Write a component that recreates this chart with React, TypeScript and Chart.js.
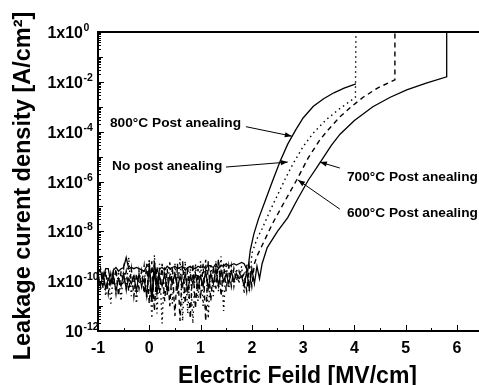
import React, { useEffect, useRef } from 'react';
import { Chart, registerables } from 'chart.js';

Chart.register(...registerables);

const FONT = '"Liberation Sans", Arial, Helvetica, sans-serif';

// Noise region: shared field values (MV/cm)
const NOISE_X = [
  -1.0, -0.95, -0.9, -0.85, -0.8, -0.75, -0.7, -0.65, -0.6, -0.55,
  -0.5, -0.45, -0.4, -0.35, -0.3, -0.25, -0.2, -0.15, -0.1, -0.05,
  0.0, 0.05, 0.1, 0.15, 0.2, 0.25, 0.3, 0.35, 0.4, 0.45,
  0.5, 0.55, 0.6, 0.65, 0.7, 0.75, 0.8, 0.85, 0.9, 0.95,
  1.0, 1.05, 1.1, 1.15, 1.2, 1.25, 1.3, 1.35, 1.4, 1.45,
  1.5, 1.55, 1.6, 1.65, 1.7, 1.75, 1.8,
];

// log10 of current density in the noise region
const NOISE_800 = [
  -9.55, -9.6, -9.9, -9.5, -9.5, -10.1, -9.55, -9.45, -9.6, -9.5,
  -9.45, -9.05, -9.5, -9.45, -9.5, -9.45, -9.5, -9.55, -9.6, -9.4,
  -9.3, -10.7, -9.2, -10.2, -9.5, -9.45, -9.55, -9.4, -9.5, -9.45,
  -9.4, -9.5, -9.45, -9.4, -9.55, -9.45, -9.4, -9.5, -9.5, -9.4,
  -9.45, -9.4, -9.5, -9.35, -9.4, -9.45, -9.3, -9.5, -9.35, -9.4,
  -9.3, -9.4, -9.35, -9.3, -9.35, -9.3, -9.25,
];
const NOISE_NONE = [
  -9.7, -10.4, -9.6, -10.6, -9.8, -10.9, -9.7, -10.5, -9.6, -10.8,
  -9.5, -10.3, -9.05, -10.6, -9.7, -10.9, -9.6, -10.2, -9.4, -10.7,
  -9.1, -11.5, -8.95, -11.3, -9.3, -11.7, -9.4, -10.6, -9.2, -10.9,
  -9.3, -10.5, -9.1, -11.6, -9.2, -11.3, -9.4, -11.7, -9.3, -10.8,
  -9.2, -11.0, -9.1, -11.5, -9.3, -10.6, -9.2, -10.4, -9.0, -11.2,
  -9.3, -10.3, -9.4, -10.2, -9.5, -10.1, -9.4,
];
const NOISE_700 = [
  -10.0, -9.5, -10.3, -9.6, -10.5, -9.7, -10.2, -9.5, -10.6, -9.6,
  -10.1, -9.6, -10.4, -9.5, -10.6, -9.7, -10.3, -9.6, -10.5, -9.3,
  -10.9, -9.2, -11.2, -9.4, -10.5, -9.3, -10.8, -9.5, -11.0, -9.4,
  -11.4, -9.3, -11.6, -9.2, -10.9, -9.4, -11.5, -9.3, -11.1, -9.5,
  -10.7, -9.3, -11.6, -9.2, -10.8, -9.4, -10.3, -9.1, -10.6, -9.3,
  -10.4, -9.4, -10.2, -9.5, -10.0, -9.6, -9.9,
];
const NOISE_600 = [
  -9.8, -10.2, -9.7, -10.3, -9.9, -10.1, -9.8, -10.4, -9.9, -10.2,
  -9.7, -10.3, -9.9, -10.1, -9.8, -10.4, -9.7, -10.2, -9.9, -10.6,
  -9.4, -10.8, -9.6, -10.5, -9.8, -10.2, -9.7, -10.4, -9.8, -10.1,
  -9.7, -10.3, -9.8, -10.2, -9.7, -10.4, -9.8, -10.1, -9.7, -10.3,
  -9.8, -10.2, -9.6, -10.3, -9.7, -10.1, -9.5, -10.2, -9.6, -10.0,
  -9.7, -10.1, -9.6, -10.0, -9.7, -9.9, -9.8,
];

// Rising (breakdown) parts: field and log10 current
const RISE_800_X = [1.85, 1.92, 1.97, 2.04, 2.13, 2.27, 2.4, 2.55, 2.7, 2.85, 3.0, 3.2, 3.4, 3.6, 3.8, 4.03];
const RISE_800_EXP = [-9.3, -9.6, -8.75, -8.1, -7.5, -6.72, -6.0, -5.2, -4.5, -3.95, -3.45, -2.98, -2.68, -2.44, -2.25, -2.08];

const RISE_NONE_X = [1.85, 1.9, 1.95, 2.0, 2.1, 2.2, 2.35, 2.5, 2.65, 2.8, 3.0, 3.2, 3.45, 3.7, 4.02, 4.03];
const RISE_NONE_EXP = [-10.5, -9.3, -10.4, -8.9, -8.3, -7.9, -7.2, -6.55, -5.9, -5.3, -4.6, -4.05, -3.52, -3.1, -2.62, 0];

const RISE_700_X = [1.85, 1.9, 1.95, 2.0, 2.05, 2.1, 2.25, 2.4, 2.6, 2.88, 3.1, 3.33, 3.5, 3.72, 3.95, 4.17, 4.45, 4.79, 4.79];
const RISE_700_EXP = [-9.7, -10.4, -9.4, -10.2, -9.3, -9.0, -8.35, -7.7, -6.95, -5.92, -5.05, -4.32, -3.9, -3.4, -2.98, -2.62, -2.25, -1.92, 0];

const RISE_600_X = [1.85, 1.9, 1.95, 2.0, 2.05, 2.1, 2.15, 2.2, 2.3, 2.5, 2.7, 2.88, 3.1, 3.33, 3.55, 3.72, 4.0, 4.36, 4.7, 5.02, 5.4, 5.8, 5.8];
const RISE_600_EXP = [-10.2, -9.6, -10.3, -9.5, -10.1, -9.4, -9.9, -9.3, -8.65, -8.0, -7.45, -6.75, -5.95, -5.24, -4.55, -4.1, -3.55, -3.0, -2.62, -2.32, -2.05, -1.8, 0];

// Axis ticks
const X_MIN = -1;
const X_MAX = 6.43;
const X_TICKS = [-1, 0, 1, 2, 3, 4, 5, 6];
const Y_TICK_EXP = [0, -2, -4, -6, -8, -10, -12];
const Y_TICK_BASE = ['1x10', '1x10', '1x10', '1x10', '1x10', '1x10', '10'];
const Y_TICK_SUP = ['0', '-2', '-4', '-6', '-8', '-10', '-12'];

const X_TITLE = 'Electric Feild [MV/cm]';
const Y_TITLE = 'Leakage curent density [A/cm\u00B2]';

// Annotation labels (text anchor in data units; log10 for y) with arrows
const LABEL_TEXT = ['800°C Post anealing', 'No post anealing', '700°C Post anealing', '600°C Post anealing'];
const LABEL_X = [-0.766, -0.727, 3.854, 3.854];
const LABEL_EXP = [-3.65, -5.38, -5.82, -7.27];
const ARROW_FROM_X = [1.885, 1.495, 3.717, 3.717];
const ARROW_FROM_EXP = [-3.8, -5.42, -5.46, -7.11];
const ARROW_TO_X = [2.78, 2.70, 3.327, 2.90];
const ARROW_TO_EXP = [-4.18, -5.22, -5.22, -5.94];

function buildPoints(noiseExp: number[], riseX: number[], riseExp: number[]) {
  const pts: { x: number; y: number }[] = [];
  const n = Math.min(NOISE_X.length, noiseExp.length);
  for (let i = 0; i < n; i++) pts.push({ x: NOISE_X[i], y: Math.pow(10, noiseExp[i]) });
  for (let i = 0; i < riseX.length; i++) pts.push({ x: riseX[i], y: Math.pow(10, riseExp[i]) });
  return pts;
}

const decorPlugin = {
  id: 'decor',
  afterDraw(chart: any) {
    const { ctx, chartArea: a, scales } = chart;
    const xs = scales.x;
    const ys = scales.y;
    ctx.save();
    ctx.strokeStyle = '#000';
    ctx.fillStyle = '#000';

    // frame (left, bottom, top)
    ctx.lineWidth = 2;
    ctx.beginPath();
    ctx.moveTo(a.right, a.top);
    ctx.lineTo(a.left, a.top);
    ctx.lineTo(a.left, a.bottom);
    ctx.lineTo(a.right, a.bottom);
    ctx.stroke();

    // y tick marks (inside)
    ctx.lineWidth = 1;
    ctx.beginPath();
    for (let d = -12; d <= 0; d++) {
      for (let m = 1; m <= 9; m++) {
        const v = m * Math.pow(10, d);
        if (v > 1.0001) break;
        const py = Math.round(ys.getPixelForValue(v)) + 0.5;
        const len = m === 1 ? (d % 2 === 0 ? 6 : 5) : 3;
        ctx.moveTo(a.left, py);
        ctx.lineTo(a.left + len, py);
      }
    }
    // x tick marks (inside)
    for (let k = 0; k < X_TICKS.length; k++) {
      const t = X_TICKS[k];
      const px = Math.round(xs.getPixelForValue(t)) + 0.5;
      ctx.moveTo(px, a.bottom);
      ctx.lineTo(px, a.bottom - 6);
      const h = t + 0.5;
      if (h < X_MAX) {
        const ph = Math.round(xs.getPixelForValue(h)) + 0.5;
        ctx.moveTo(ph, a.bottom);
        ctx.lineTo(ph, a.bottom - 3);
      }
    }
    ctx.stroke();

    // y tick labels with superscript exponents
    for (let i = 0; i < Y_TICK_EXP.length; i++) {
      const py = ys.getPixelForValue(Math.pow(10, Y_TICK_EXP[i]));
      ctx.font = `bold 16px ${FONT}`;
      ctx.textAlign = 'right';
      ctx.textBaseline = 'alphabetic';
      ctx.fillText(Y_TICK_BASE[i], 83, py + 6);
      ctx.font = `bold 10.5px ${FONT}`;
      ctx.textAlign = 'left';
      ctx.fillText(Y_TICK_SUP[i], 83.5, py - 1);
    }

    // axis titles
    ctx.font = `bold 23px ${FONT}`;
    ctx.textAlign = 'left';
    ctx.textBaseline = 'alphabetic';
    ctx.fillText(X_TITLE, 178, 383);
    ctx.save();
    ctx.font = `bold 23.5px ${FONT}`;
    ctx.translate(30, 186);
    ctx.rotate(-Math.PI / 2);
    ctx.textAlign = 'center';
    ctx.fillText(Y_TITLE, 0, 0);
    ctx.restore();

    // annotation labels with arrows
    ctx.font = `bold 13.7px ${FONT}`;
    ctx.textAlign = 'left';
    ctx.textBaseline = 'middle';
    ctx.lineWidth = 1;
    for (let i = 0; i < LABEL_TEXT.length; i++) {
      const tx = xs.getPixelForValue(LABEL_X[i]);
      const ty = ys.getPixelForValue(Math.pow(10, LABEL_EXP[i]));
      ctx.fillText(LABEL_TEXT[i], tx, ty);
      const x1 = xs.getPixelForValue(ARROW_FROM_X[i]);
      const y1 = ys.getPixelForValue(Math.pow(10, ARROW_FROM_EXP[i]));
      const x2 = xs.getPixelForValue(ARROW_TO_X[i]);
      const y2 = ys.getPixelForValue(Math.pow(10, ARROW_TO_EXP[i]));
      ctx.beginPath();
      ctx.moveTo(x1, y1);
      ctx.lineTo(x2, y2);
      ctx.stroke();
      const ang = Math.atan2(y2 - y1, x2 - x1);
      const L = 7, W = 2.6;
      ctx.beginPath();
      ctx.moveTo(x2, y2);
      ctx.lineTo(x2 - L * Math.cos(ang) + W * Math.sin(ang), y2 - L * Math.sin(ang) - W * Math.cos(ang));
      ctx.lineTo(x2 - L * Math.cos(ang) - W * Math.sin(ang), y2 - L * Math.sin(ang) + W * Math.cos(ang));
      ctx.closePath();
      ctx.fill();
    }
    ctx.restore();
  },
};

export default function App() {
  const ref = useRef<HTMLCanvasElement | null>(null);

  useEffect(() => {
    document.body.style.margin = '0';
    document.body.style.overflow = 'hidden';
    const canvas = ref.current;
    if (!canvas) return;
    const base = {
      borderColor: '#000',
      backgroundColor: '#000',
      pointRadius: 0,
      pointHoverRadius: 0,
      tension: 0,
      fill: false,
      showLine: true,
    };
    const chart = new Chart(canvas, {
      type: 'line',
      data: {
        datasets: [
          { ...base, label: '800°C Post anealing', data: buildPoints(NOISE_800, RISE_800_X, RISE_800_EXP), borderWidth: 1.3 },
          { ...base, label: 'No post anealing', data: buildPoints(NOISE_NONE, RISE_NONE_X, RISE_NONE_EXP), borderWidth: 1.4, borderDash: [1.5, 3.5] },
          { ...base, label: '700°C Post anealing', data: buildPoints(NOISE_700, RISE_700_X, RISE_700_EXP), borderWidth: 1.4, borderDash: [5, 4] },
          { ...base, label: '600°C Post anealing', data: buildPoints(NOISE_600, RISE_600_X, RISE_600_EXP), borderWidth: 1.3 },
        ],
      },
      options: {
        responsive: false,
        animation: false,
        devicePixelRatio: 1,
        layout: { padding: { top: 32, right: 0, left: 0, bottom: 0 } },
        plugins: { legend: { display: false }, tooltip: { enabled: false }, title: { display: false } },
        scales: {
          x: {
            type: 'linear',
            min: X_MIN,
            max: X_MAX,
            grid: { display: false },
            border: { display: false },
            ticks: {
              stepSize: 1,
              autoSkip: false,
              maxRotation: 0,
              padding: 0,
              color: '#000',
              font: { family: FONT, weight: 'bold', size: 16 },
            },
            afterBuildTicks: (scale: any) => {
              scale.ticks = X_TICKS.map((v) => ({ value: v }));
            },
            afterFit: (scale: any) => {
              scale.height = 54;
            },
          },
          y: {
            type: 'logarithmic',
            min: 1e-12,
            max: 1,
            grid: { display: false },
            border: { display: false },
            ticks: { display: false },
            afterFit: (scale: any) => {
              scale.width = 98;
            },
          },
        },
      } as any,
      plugins: [decorPlugin],
    });
    return () => chart.destroy();
  }, []);

  return (
    <div style={{ width: 479, height: 385, background: '#fff' }}>
      <canvas ref={ref} width={479} height={385} style={{ display: 'block' }} />
    </div>
  );
}
